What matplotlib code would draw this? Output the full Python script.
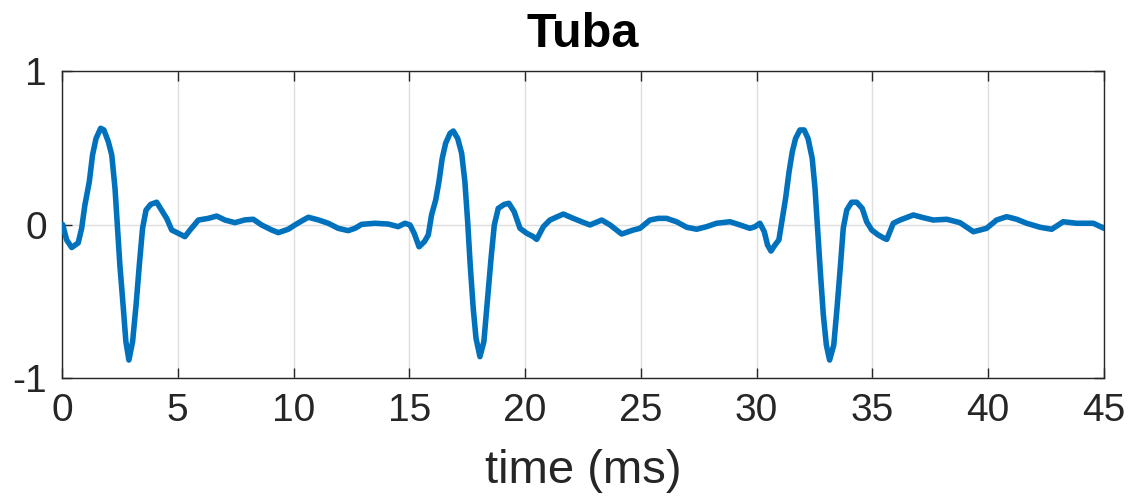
import numpy as np
import matplotlib
matplotlib.use('Agg')
import matplotlib.pyplot as plt

# waveform: time in ms, amplitude
t_ms = [0.03, 0.20, 0.42, 0.70, 0.85, 0.99, 1.18, 1.32, 1.47, 1.67, 1.81, 2.00, 2.15, 2.29,
        2.39, 2.50, 2.65, 2.76, 2.89, 3.05, 3.20, 3.34, 3.48, 3.63, 3.83, 4.09, 4.30, 4.52,
        4.74, 5.02, 5.31, 5.53,
        5.89, 6.32, 6.68, 7.04, 7.47, 7.90, 8.26, 8.62, 9.06, 9.34, 9.77, 10.06, 10.42,
        10.64, 11.07, 11.50, 11.93, 12.36, 12.65, 12.94, 13.52, 14.09, 14.52, 14.81, 15.03,
        15.21, 15.42, 15.65, 15.82, 15.96, 16.14, 16.28, 16.42, 16.57, 16.76, 16.90, 17.09,
        17.26, 17.40, 17.52, 17.63, 17.76, 17.88, 18.05, 18.22, 18.38, 18.53, 18.67, 18.84,
        19.10, 19.30, 19.53, 19.78, 20.07, 20.35,
        20.50, 20.79, 21.07, 21.65, 22.08, 22.44, 22.80, 23.31, 23.67, 24.17, 24.67, 24.96,
        25.39, 25.75, 26.11, 26.54, 26.98, 27.41, 27.84, 28.27, 28.85, 29.28, 29.71,
        29.93, 30.14, 30.33, 30.47, 30.62, 30.79, 30.96, 31.11, 31.25, 31.40, 31.54, 31.68,
        31.87, 32.05, 32.22, 32.40, 32.52, 32.63, 32.75, 32.88, 33.01, 33.15, 33.33, 33.47,
        33.62, 33.74, 33.89, 34.10, 34.32, 34.56, 34.75, 34.97, 35.25, 35.51,
        35.62, 35.90, 36.19, 36.77, 37.13, 37.63, 38.21, 38.78, 39.36, 39.93, 40.36, 40.80,
        41.23, 41.66, 42.24, 42.74, 43.24, 43.82, 44.54, 45.00]
amp = [0.000, -0.100, -0.150, -0.120, -0.025, 0.127, 0.279, 0.453, 0.560, 0.627, 0.616,
       0.540, 0.453, 0.236, -0.003, -0.264, -0.546, -0.763, -0.883, -0.763, -0.524, -0.264,
       -0.025, 0.094, 0.131, 0.145, 0.094, 0.040, -0.036, -0.057, -0.079, -0.036,
       0.029, 0.040, 0.055, 0.029, 0.012, 0.030, 0.034, -0.003, -0.036, -0.053, -0.031,
       -0.003, 0.029, 0.047, 0.030, 0.008, -0.025, -0.040, -0.025, 0.001, 0.008, 0.003,
       -0.014, 0.008, -0.003,
       -0.057, -0.145, -0.112, -0.068, 0.062, 0.160, 0.279, 0.430, 0.530, 0.594, 0.609,
       0.560, 0.464, 0.279, 0.018, -0.264, -0.546, -0.741, -0.861, -0.763, -0.481, -0.220,
       -0.003, 0.105, 0.131, 0.138, 0.083, -0.025, -0.057, -0.079,
       -0.097, -0.014, 0.029, 0.068, 0.040, 0.018, -0.003, 0.029, -0.003, -0.062, -0.036,
       -0.025, 0.029, 0.040, 0.040, 0.018, -0.018, -0.031, -0.014, 0.008, 0.018, -0.003,
       -0.025,
       -0.014, 0.008, -0.047, -0.134, -0.173, -0.134, -0.100, 0.040, 0.170, 0.344, 0.474,
       0.560, 0.616, 0.616, 0.560, 0.430, 0.236, -0.025, -0.307, -0.590, -0.785, -0.883,
       -0.785, -0.546, -0.264, -0.025, 0.094, 0.145, 0.145, 0.105, 0.018, -0.036, -0.068,
       -0.090,
       -0.097, 0.008, 0.029, 0.062, 0.047, 0.029, 0.034, 0.012, -0.047, -0.025, 0.029,
       0.051, 0.034, 0.008, -0.018, -0.031, 0.018, 0.008, 0.008, -0.025]

plt.rcParams['font.family'] = ['Liberation Sans', 'DejaVu Sans']
plt.rcParams['axes.unicode_minus'] = False

fig = plt.figure(figsize=(11.33, 4.99), dpi=100)
ax = fig.add_axes([0.0547, 0.2425, 0.9197, 0.6152])
ax.plot(t_ms, amp, color='#0072BD', linewidth=4, zorder=3,
        solid_joinstyle='round', solid_capstyle='round')

ax.set_xlim(0, 45)
ax.set_ylim(-1, 1)
ax.set_xticks(np.arange(0, 46, 5))
ax.set_yticks([-1, 0, 1])
ax.grid(True, color='#dfdfdf', linewidth=1)
ax.set_axisbelow(True)
ax.tick_params(direction='in', top=True, right=True, length=7, width=1,
               colors='#262626', labelsize=28, pad=11)
for s in ax.spines.values():
    s.set_color('#262626')
    s.set_linewidth(1)

ax.set_xlabel('time (ms)', fontsize=34, color='#262626', labelpad=14)
ax.set_title('Tuba', fontsize=35, fontweight='bold', pad=17)

fig.savefig('out.png', dpi=100)
